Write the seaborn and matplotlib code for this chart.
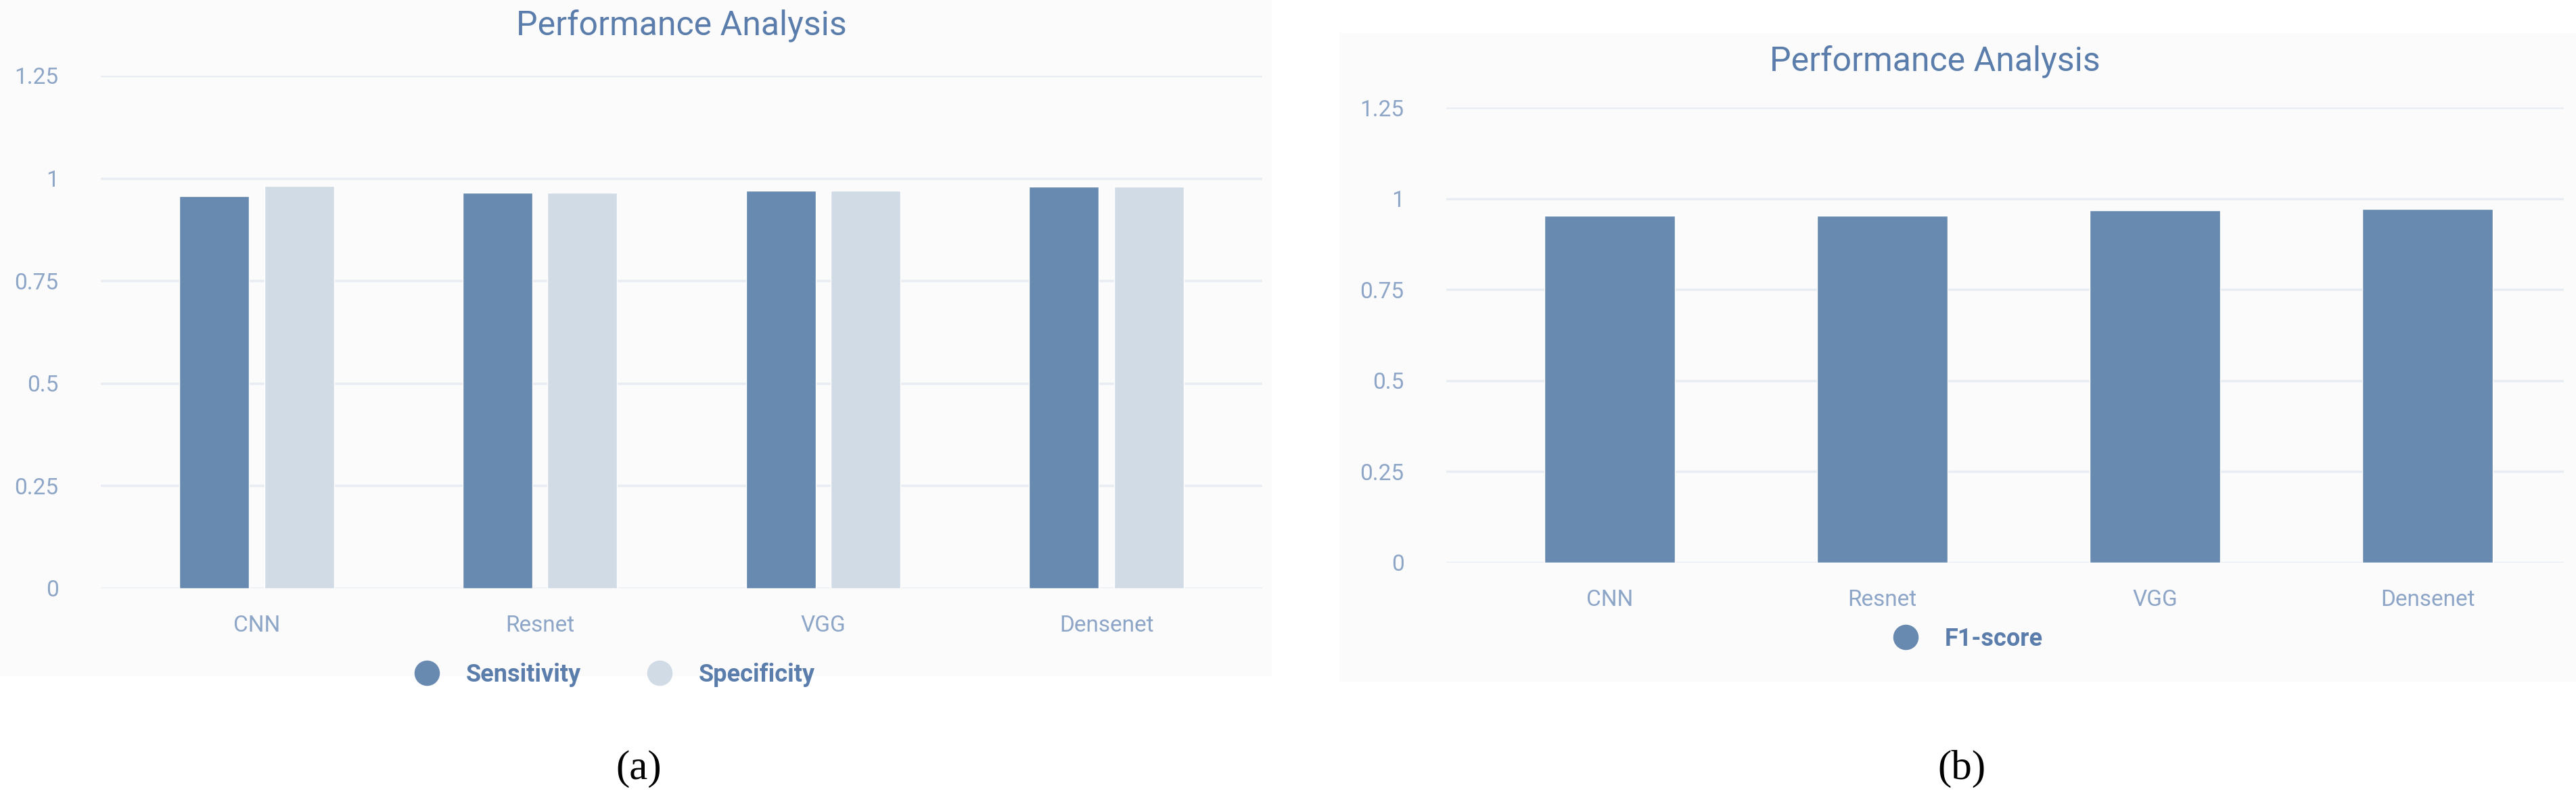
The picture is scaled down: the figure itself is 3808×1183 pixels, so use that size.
import matplotlib
matplotlib.use("Agg")
import matplotlib.pyplot as plt
import seaborn as sns
import pandas as pd
from matplotlib.lines import Line2D
from matplotlib.patches import Rectangle

models = ["CNN", "Resnet", "VGG", "Densenet"]
sensitivity = [0.957, 0.965, 0.970, 0.979]
specificity = [0.982, 0.965, 0.970, 0.979]
f1_score = [0.953, 0.953, 0.968, 0.972]
yticks = [0, 0.25, 0.5, 0.75, 1, 1.25]
ytick_labels = ["0", "0.25", "0.5", "0.75", "1", "1.25"]

sns.set_theme(style="white")
plt.rcParams["font.family"] = ["Roboto", "DejaVu Sans"]

DARK = "#6889B0"
LIGHT = "#D0DBE6"
TXT = "#8DA5C6"
TITLE = "#5A7DAB"
GRID = "#E8EDF3"

W, H = 3808, 1183
fig = plt.figure(figsize=(W / 100, H / 100), dpi=100)
fig.patch.set_facecolor("white")

# light panel backgrounds
bgL = fig.add_axes([0, 1 - 1000 / H, 1880 / W, 1000 / H], zorder=-5)
bgR = fig.add_axes([1980 / W, 1 - 1008 / H, 1828 / W, 959 / H], zorder=-5)
for bg in (bgL, bgR):
    bg.set_facecolor("#FBFBFC")
    bg.set_axis_off()
    bg.add_patch(Rectangle((0, 0), 1, 1, transform=bg.transAxes, facecolor="#FBFBFC", edgecolor="none"))


def style_ax(ax):
    ax.set_facecolor("none")
    ax.set_ylim(0, 1.25)
    ax.set_yticks(yticks)
    ax.set_yticklabels(ytick_labels)
    ax.grid(axis="y", color=GRID, linewidth=2.5)
    ax.set_axisbelow(True)
    for s in ax.spines.values():
        s.set_visible(False)
    ax.tick_params(axis="both", length=0, colors=TXT, labelsize=24, pad=28)
    ax.tick_params(axis="y", pad=45)
    ax.set_xlabel("")
    ax.set_ylabel("")


# Panel (a)
axL = fig.add_axes([149 / W, 1 - 870 / H, (1866 - 149) / W, (870 - 112) / H], zorder=2)
dfa = pd.DataFrame({
    "Model": models * 2,
    "Value": sensitivity + specificity,
    "Metric": ["Sensitivity"] * 4 + ["Specificity"] * 4,
})
sns.barplot(data=dfa, x="Model", y="Value", hue="Metric", palette=[DARK, LIGHT],
            width=0.6, gap=0.18, ax=axL, legend=False, saturation=1)
style_ax(axL)
axL.set_xlim(-0.55, 3.55)
fig.text((149 + 1866) / 2 / W, 1 - 38 / H, "Performance Analysis", ha="center", va="center",
         fontsize=36, color=TITLE)
handles = [Line2D([], [], marker="o", ls="none", markersize=26, color=DARK),
           Line2D([], [], marker="o", ls="none", markersize=26, color=LIGHT)]
fig.legend(handles, ["Sensitivity", "Specificity"], loc="center", ncol=2,
           bbox_to_anchor=(900 / W, 1 - 998 / H), frameon=False, handletextpad=0.6,
           columnspacing=2.2, prop={"weight": "bold", "size": 26}, labelcolor="#5A7DAB")

# Panel (b)
axR = fig.add_axes([2138 / W, 1 - 832 / H, (3790 - 2138) / W, (832 - 159) / H], zorder=2)
dfb = pd.DataFrame({"Model": models, "Value": f1_score})
sns.barplot(data=dfb, x="Model", y="Value", color=DARK, width=0.48, ax=axR, saturation=1)
style_ax(axR)
axR.set_xlim(-0.6, 3.5)
fig.text(2860 / W, 1 - 91 / H, "Performance Analysis", ha="center", va="center",
         fontsize=36, color=TITLE)
fig.legend([Line2D([], [], marker="o", ls="none", markersize=26, color=DARK)], ["F1-score"],
           loc="center", bbox_to_anchor=(2900 / W, 1 - 945 / H), frameon=False,
           handletextpad=0.6, prop={"weight": "bold", "size": 26}, labelcolor="#5A7DAB")

fig.text(944 / W, 1 - 1137 / H, "(a)", ha="center", va="center", fontsize=44,
         family=["Liberation Serif", "DejaVu Serif"], color="black")
fig.text(2900 / W, 1 - 1137 / H, "(b)", ha="center", va="center", fontsize=44,
         family=["Liberation Serif", "DejaVu Serif"], color="black")

fig.savefig("out.png", dpi=100)
